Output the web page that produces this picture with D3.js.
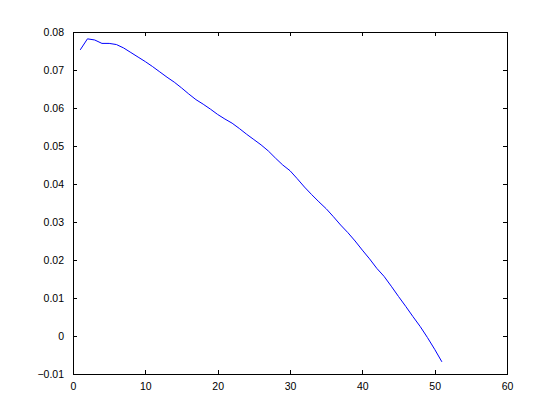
<!DOCTYPE html>
<html>
<head>
<meta charset="utf-8">
<script src="https://cdn.jsdelivr.net/npm/d3@7"></script>
<style>
  body { margin: 0; background: #fff; }
  svg { display: block; }
  text { font-family: "Liberation Sans", Arial, sans-serif; font-size: 10.5px; fill: #000; }
</style>
</head>
<body>
<svg id="chart" width="560" height="420"></svg>
<script>
// values, x = 1..51
const xValues = d3.range(1, 52);
const yValues = [
  0.0753, 0.0782, 0.0779, 0.0770, 0.0770, 0.0767, 0.0758, 0.0746, 0.0734, 0.0722,
  0.0709, 0.0695, 0.0681, 0.0668, 0.0653, 0.0637, 0.0622, 0.0610, 0.0597, 0.0583,
  0.0571, 0.0560, 0.0546, 0.0531, 0.0517, 0.0503, 0.0487, 0.0468, 0.0450, 0.0435,
  0.0414, 0.0392, 0.0372, 0.0353, 0.0335, 0.0314, 0.0292, 0.0272, 0.0250, 0.0226,
  0.0203, 0.0178, 0.0157, 0.0131, 0.0104, 0.0078, 0.0051, 0.0025, -0.0004, -0.0035,
  -0.0068
];
const xTicks = [0, 10, 20, 30, 40, 50, 60];
const yTicks = [-0.01, 0, 0.01, 0.02, 0.03, 0.04, 0.05, 0.06, 0.07, 0.08];

const plotLeft = 73, plotRight = 507, plotTop = 32, plotBottom = 374;
const tickLen = 4;

const svg = d3.select("#chart");

const x = d3.scaleLinear().domain([0, 60]).range([plotLeft, plotRight]);
const y = d3.scaleLinear().domain([-0.01, 0.08]).range([plotBottom, plotTop]);

const fmt = d => (d === 0 ? "0" : d3.format(".2f")(d));

// bottom axis, ticks pointing inward
svg.append("g")
  .attr("transform", `translate(0,${plotBottom})`)
  .call(d3.axisBottom(x).tickValues(xTicks).tickSizeInner(-tickLen).tickSizeOuter(0).tickPadding(9).tickFormat(d3.format("d")))
  .call(g => g.select(".domain").remove())
  .call(g => g.selectAll("text").attr("font-size", null).attr("font-family", null));

// left axis
svg.append("g")
  .attr("transform", `translate(${plotLeft},0)`)
  .call(d3.axisLeft(y).tickValues(yTicks).tickSizeInner(-tickLen).tickSizeOuter(0).tickPadding(9).tickFormat(fmt))
  .call(g => g.select(".domain").remove())
  .call(g => g.selectAll("text").attr("font-size", null).attr("font-family", null));

// top and right ticks (no labels)
svg.append("g")
  .attr("transform", `translate(0,${plotTop})`)
  .call(d3.axisTop(x).tickValues(xTicks).tickSizeInner(-tickLen).tickSizeOuter(0).tickFormat(""))
  .call(g => g.select(".domain").remove());

svg.append("g")
  .attr("transform", `translate(${plotRight},0)`)
  .call(d3.axisRight(y).tickValues(yTicks).tickSizeInner(-tickLen).tickSizeOuter(0).tickFormat(""))
  .call(g => g.select(".domain").remove());

svg.selectAll(".tick line").attr("stroke", "#000").attr("shape-rendering", "crispEdges");

// box
svg.append("rect")
  .attr("x", plotLeft + 0.5)
  .attr("y", plotTop + 0.5)
  .attr("width", plotRight - plotLeft)
  .attr("height", plotBottom - plotTop)
  .attr("fill", "none")
  .attr("stroke", "#000")
  .attr("shape-rendering", "crispEdges");

const line = d3.line()
  .x((d, i) => x(xValues[i]))
  .y(d => y(d));

svg.append("path")
  .datum(yValues)
  .attr("d", line)
  .attr("fill", "none")
  .attr("stroke", "#0000ff")
  .attr("stroke-width", 1);
</script>
</body>
</html>
